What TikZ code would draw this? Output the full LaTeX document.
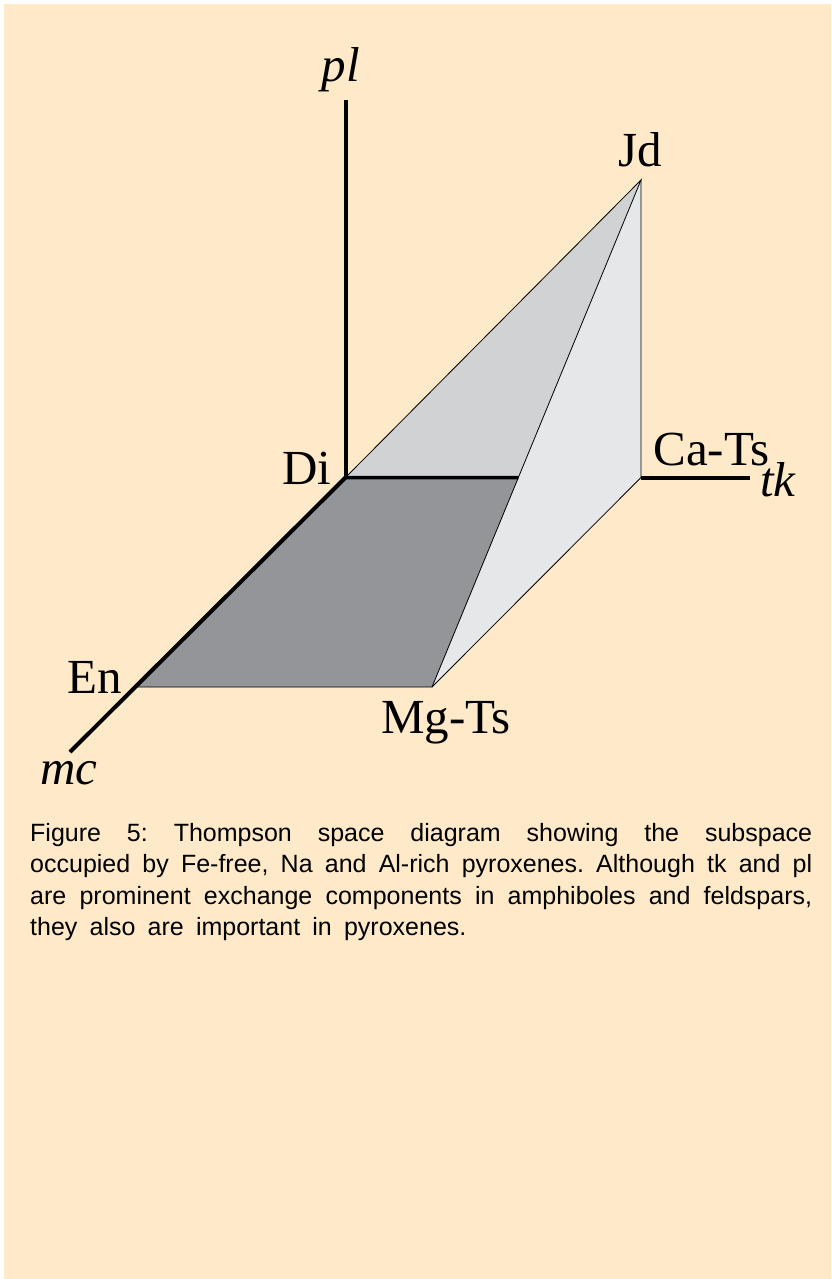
\documentclass[tikz,border=0pt]{standalone}
\usepackage{fontspec}
\setmainfont{Liberation Serif}
\newfontfamily\capfont{Liberation Sans}
\usepackage{xcolor}
\definecolor{paper}{HTML}{FEE9C9}
\definecolor{facelight}{HTML}{D1D2D4}
\definecolor{facepale}{HTML}{E6E7E8}
\definecolor{facedark}{HTML}{939598}
\usepackage{tikz}
\newcommand\capspacing{\frenchspacing\spaceskip=12.2pt plus 8pt minus 1pt\relax}
\tikzset{
  axis/.style={draw=black,line width=4pt},
  edge/.style={draw=black,line width=0.8pt},
  ptlabel/.style={anchor=base,inner sep=0pt,font=\fontsize{49}{52}\selectfont},
  axlabel/.style={ptlabel,font=\fontsize{49}{52}\selectfont\itshape},
  caption/.style={anchor=north west,inner sep=0pt,text width=782pt,align=justify,
    font=\capfont\fontsize{25}{31.3}\selectfont},
}

\begin{document}
\begin{tikzpicture}[x=1pt,y=-1pt]
  % page and paper
  \useasboundingbox (0,0) rectangle (831,1279);
  \fill[paper] (4,4) rectangle (831,1279);
  % corners of the subspace
  \coordinate (Di) at (345.5,477.5);
  \coordinate (Jd) at (641,180);
  \coordinate (CaTs) at (641,477.5);
  \coordinate (MgTs) at (432,687);
  \coordinate (En) at (135,687);
  \coordinate (P) at (intersection of Jd--MgTs and Di--CaTs);
  % axis ends
  \coordinate (pltop) at (345.5,100);
  \coordinate (tkend) at (750,477.5);
  \coordinate (mcend) at (70,752);
  % faces
  \fill[facelight] (Di) -- (Jd) -- (P) -- cycle;
  \fill[facepale] (Jd) -- (CaTs) -- (MgTs) -- cycle;
  \fill[facedark] (Di) -- (P) -- (MgTs) -- (En) -- cycle;
  \draw[edge] (Di) -- (Jd) -- (MgTs) -- (En);
  \draw[edge] (Jd) -- (CaTs) -- (MgTs);
  % axes
  \draw[axis] (Di) -- (pltop);
  \draw[axis,line width=3.5pt] (Di) -- (P);
  \draw[axis] (CaTs) -- (tkend);
  \draw[axis] (Di) -- (mcend);
  % labels
  \node[axlabel] (pllab) at (341,82) {pl};
  \node[axlabel] (tklab) at (778,496) {tk};
  \node[axlabel] (mclab) at (69,784) {mc};
  \node[ptlabel] (jdlab) at (640,166) {Jd};
  \node[ptlabel] (catslab) at (711.5,465) {Ca-Ts};
  \node[ptlabel] (dilab) at (306.5,484) {Di};
  \node[ptlabel] (enlab) at (94.5,693) {En};
  \node[ptlabel] (mgtslab) at (446,733) {Mg-Ts};
  % caption
  \node[caption] (captext) at (30,823.3)
    {\capspacing Figure 5: Thompson space diagram showing the subspace\linebreak
     occupied by Fe-free, Na and Al-rich pyroxenes. Although tk and pl\linebreak
     are prominent exchange components in amphiboles and feldspars,\linebreak
     they also are important in pyroxenes.};
\end{tikzpicture}
\end{document}
